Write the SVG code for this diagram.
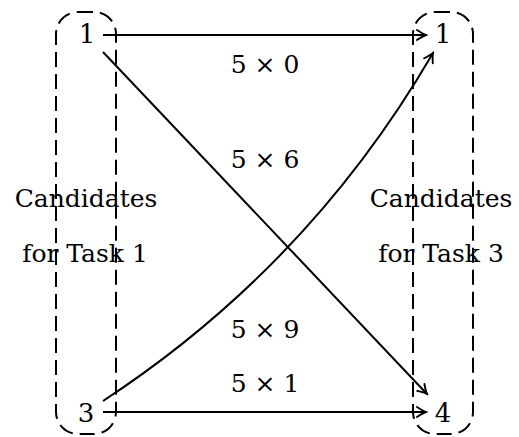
<svg xmlns="http://www.w3.org/2000/svg" width="519" height="437" viewBox="0 0 519 437">
<defs>
<marker id="arr" viewBox="-11 -7 13 14" refX="0" refY="0" markerWidth="13" markerHeight="14" markerUnits="userSpaceOnUse" orient="auto">
<path d="M -9,-5 Q -3,-1 0,0 Q -3,1 -9,5" fill="none" stroke="#000" stroke-width="1.9" stroke-linecap="round"/>
</marker>
</defs>
<style>
text{fill:#000;text-anchor:middle;font-family:"DejaVu Serif","Liberation Serif",serif}
.grp{fill:none;stroke:#000;stroke-width:2;stroke-dasharray:15 7}
.edge{fill:none;stroke:#000;stroke-width:2;marker-end:url(#arr)}
.n{font-size:26px}
.lbl{font-size:25px}
.cand{font-size:25px}
</style>
<g id="group-task1">
<rect class="grp" x="56" y="12" width="60" height="422" rx="22" ry="22"/>
<text class="cand" x="86" y="207">Candidates</text>
<text class="cand" x="85" y="262">for Task 1</text>
</g>
<g id="group-task3">
<rect class="grp" x="413" y="12" width="60" height="422" rx="22" ry="22"/>
<text class="cand" x="441" y="207">Candidates</text>
<text class="cand" x="441" y="262">for Task 3</text>
</g>
<g id="node-l1"><text class="n" x="87" y="43">1</text></g>
<g id="node-l3"><text class="n" x="86" y="422">3</text></g>
<g id="node-r1"><text class="n" x="443" y="43">1</text></g>
<g id="node-r4"><text class="n" x="443" y="422">4</text></g>
<g id="connectors">
<line class="edge" x1="103" y1="35" x2="426" y2="35"/>
<line class="edge" x1="103" y1="412" x2="426" y2="412"/>
<line class="edge" x1="103" y1="52" x2="427" y2="394"/>
<path class="edge" d="M 103,401 Q 309,266 433,53"/>
<text class="lbl" x="265" y="73">5 × 0</text>
<text class="lbl" x="265" y="168">5 × 6</text>
<text class="lbl" x="265" y="338">5 × 9</text>
<text class="lbl" x="265" y="392">5 × 1</text>
</g>
</svg>
